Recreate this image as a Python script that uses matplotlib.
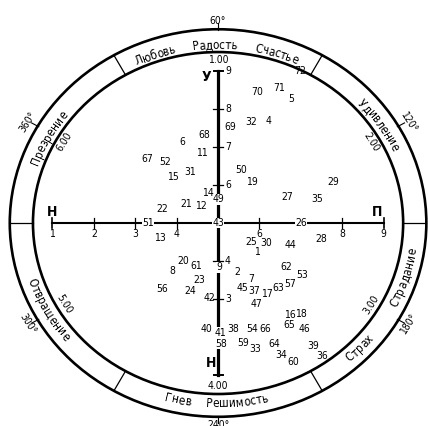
import numpy as np
import matplotlib
matplotlib.use('Agg')
import matplotlib.pyplot as plt
from matplotlib.patches import Ellipse
from matplotlib import font_manager

# numbered expressions: x = pleasantness (Н..П), y = attention (У..Н), scale 1..9
point_ids = [70, 71, 5, 72, 32, 4, 69, 68, 6, 11, 67, 52, 15, 31, 50, 19, 29, 27, 35,
             14, 49, 22, 21, 12, 51, 43, 13, 26, 25, 30, 1, 44, 28, 9, 2, 20, 61, 8,
             23, 56, 24, 42, 7, 45, 37, 17, 63, 57, 62, 53, 47, 16, 18, 65, 46, 40,
             41, 38, 54, 66, 58, 59, 33, 64, 34, 60, 39, 36]
point_x = [5.94, 6.47, 6.76, 6.98, 5.80, 6.23, 5.29, 4.66, 4.13, 4.61, 3.29, 3.72, 3.91,
           4.32, 5.56, 5.82, 7.78, 6.67, 7.39, 4.76, 5.02, 3.65, 4.23, 4.59, 3.31, 5.00,
           3.60, 7.00, 5.80, 6.16, 5.94, 6.74, 7.49, 5.02, 5.46, 4.15, 4.47, 3.89, 4.54,
           3.65, 4.32, 4.78, 5.80, 5.58, 5.87, 6.18, 6.45, 6.74, 6.64, 7.03, 5.94, 6.74,
           7.00, 6.71, 7.08, 4.71, 5.05, 5.36, 5.82, 6.14, 5.07, 5.60, 5.89, 6.35, 6.52,
           6.81, 7.29, 7.51]
point_y = [8.45, 8.55, 8.26, 9.00, 7.66, 7.68, 7.53, 7.32, 7.13, 6.84, 6.68, 6.61, 6.21,
           6.34, 6.39, 6.08, 6.08, 5.68, 5.63, 5.79, 5.63, 5.37, 5.50, 5.45, 5.00, 5.00,
           4.61, 5.00, 4.50, 4.47, 4.24, 4.42, 4.58, 3.84, 3.71, 4.00, 3.87, 3.74, 3.50,
           3.26, 3.21, 3.03, 3.53, 3.29, 3.21, 3.13, 3.29, 3.39, 3.84, 3.63, 2.87, 2.58,
           2.61, 2.32, 2.21, 2.21, 2.11, 2.21, 2.21, 2.21, 1.82, 1.84, 1.68, 1.82, 1.53,
           1.34, 1.76, 1.50]
on_axis = [43, 51, 26, 49, 9, 41, 58]

x_tick_labels = [1, 2, 3, 4, 6, 8, 9]
x_tick_marks = [2, 3, 4, 6, 8]
y_tick_labels = [9, 8, 7, 6, 4, 3]
y_tick_marks = [8, 7, 6, 4, 3]

# emotion names in the ring and the angle of their middle (deg, ccw from right)
ring_words = ['Любовь', 'Радость', 'Счастье', 'Удивление', 'Страдание', 'Страх',
              'Решимость', 'Гнев', 'Отвращение', 'Презрение']
ring_angles = [109, 91, 72.5, 33.6, -17.7, -44, -84.4, -101.7, -151, 151.3]

scale_labels = ['1.00', '2.00', '3.00', '4.00', '5.00', '6.00']
degree_labels = ['60°', '120°', '180°', '240°', '300°', '360°']
label_angles = [90, 30, -30, -90, -150, 150]
separator_angles = [0, 60, 120, 180, 240, 300]

names = {f.name for f in font_manager.fontManager.ttflist}
fam = 'Liberation Sans Narrow' if 'Liberation Sans Narrow' in names else 'DejaVu Sans'
plt.rcParams['font.family'] = [fam, 'DejaVu Sans']
plt.rcParams['font.stretch'] = 'condensed'

fig = plt.figure(figsize=(4.28, 4.26), dpi=100)
ax = fig.add_axes([0, 0, 1, 1])
x0, x1, y0, y1 = -0.266, 10.07, -0.342, 10.87
ax.set_xlim(x0, x1)
ax.set_ylim(y0, y1)
ax.axis('off')
sx = 428 / (x1 - x0)   # px per unit
sy = 426 / (y1 - y0)
cx, cy = 5, 5

# rings
ax.add_patch(Ellipse((cx, cy), 2 * 4.47, 2 * 4.50, fill=False, lw=1.9, ec='black'))
ax.add_patch(Ellipse((cx, cy), 2 * 5.03, 2 * 5.10, fill=False, lw=1.9, ec='black'))
for a in separator_angles:
    t = np.radians(a)
    ax.plot([cx + 4.47 * np.cos(t), cx + 5.03 * np.cos(t)],
            [cy + 4.50 * np.sin(t), cy + 5.10 * np.sin(t)], color='black', lw=0.9)


def tangent_rot(t, top):
    if top:
        return np.degrees(np.arctan2(-sy * np.cos(t), sx * np.sin(t)))
    return np.degrees(np.arctan2(sy * np.cos(t), -sx * np.sin(t)))


renderer = fig.canvas.get_renderer()


def arc_text(word, ang, r, size):
    prop = font_manager.FontProperties(family=[fam, 'DejaVu Sans'], size=size,
                                       stretch='condensed')
    w = [renderer.get_text_width_height_descent(word[:i], prop, ismath=False)[0] if i else 0
         for i in range(len(word) + 1)]
    total = w[-1]
    t0 = np.radians(ang)
    top = np.sin(t0) > 0
    rp = r * np.hypot(sx * np.sin(t0), sy * np.cos(t0))
    for i, ch in enumerate(word):
        s = (w[i] + w[i + 1]) / 2 - total / 2
        t = t0 - s / rp if top else t0 + s / rp
        ax.text(cx + r * np.cos(t), cy + r * np.sin(t), ch, fontproperties=prop,
                rotation=tangent_rot(t, top), rotation_mode='anchor',
                ha='center', va='center_baseline')


for word, a in zip(ring_words, ring_angles):
    arc_text(word, a, 4.72, 8.5)

for lab, a in zip(scale_labels, label_angles):
    t = np.radians(a)
    top = np.sin(t) > 0
    ax.text(cx + 4.28 * np.cos(t), cy + 4.28 * np.sin(t), lab, fontsize=7.5,
            rotation=tangent_rot(t, top), rotation_mode='anchor', ha='center', va='center')

for lab, a in zip(degree_labels, label_angles):
    t = np.radians(a)
    top = np.sin(t) > 0
    ax.text(cx + 5.31 * np.cos(t), cy + 5.31 * np.sin(t), lab, fontsize=7.5,
            rotation=tangent_rot(t, top), rotation_mode='anchor', ha='center', va='center')
    ax.plot([cx + 5.0 * np.cos(t), cx + 5.2 * np.cos(t)],
            [cy + 5.07 * np.sin(t), cy + 5.27 * np.sin(t)], color='black', lw=0.8)

# axes of the diagram
ax.plot([1, 9], [5, 5], color='black', lw=1.5, zorder=2)
ax.plot([5, 5], [1, 9], color='black', lw=2.3, zorder=2)
for v in x_tick_marks:
    ax.plot([v, v], [4.88, 5.12], color='black', lw=0.9)
for v in [1, 9]:
    ax.plot([v, v], [4.86, 5.14], color='black', lw=1.2)
for v in y_tick_marks:
    ax.plot([4.88, 5.12], [v, v], color='black', lw=0.9)
for v in [1, 9]:
    ax.plot([4.89, 5.11], [v, v], color='black', lw=1.4)
for v in x_tick_labels:
    ax.text(v, 4.7, str(v), fontsize=7.5, ha='center', va='center')
for v in y_tick_labels:
    ax.text(5.24, v, str(v), fontsize=7.5, ha='center', va='center')

ax.text(4.73, 8.85, 'У', fontsize=10, fontweight='bold', ha='center', va='center')
ax.text(4.83, 1.32, 'Н', fontsize=10, fontweight='bold', ha='center', va='center')
ax.text(0.99, 5.28, 'Н', fontsize=10, fontweight='bold', ha='center', va='center')
ax.text(8.84, 5.30, 'П', fontsize=10, fontweight='bold', ha='center', va='center')

for pid, px, py in zip(point_ids, point_x, point_y):
    kw = {}
    if pid in on_axis:
        kw['bbox'] = dict(facecolor='white', edgecolor='none', pad=0.3)
    ax.text(px, py, str(pid), fontsize=7.5, ha='center', va='center', zorder=3, **kw)

fig.savefig('out.png', dpi=100, facecolor='white')
